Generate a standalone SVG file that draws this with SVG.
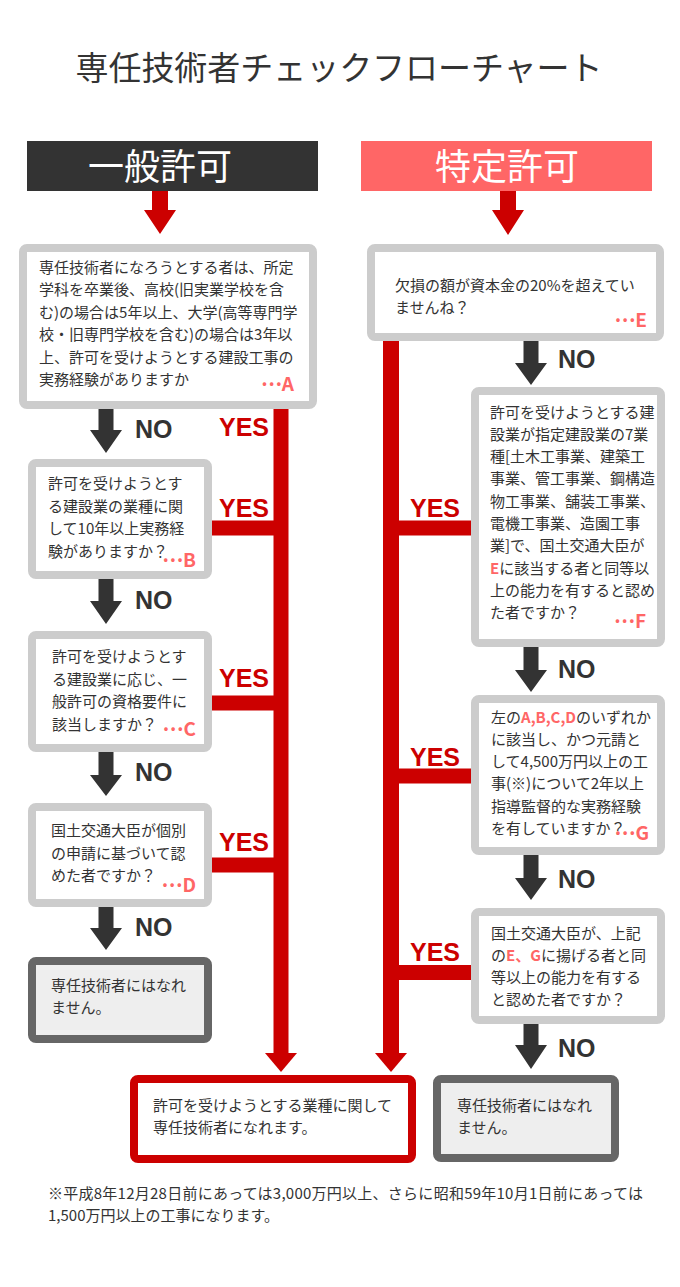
<svg xmlns="http://www.w3.org/2000/svg" width="680" height="1287" viewBox="0 0 680 1287">
<style>
.t{font-family:"Noto Sans CJK JP",sans-serif;font-size:15px;fill:#333}
.r{fill:#f66;font-weight:bold}
.lbl{font-family:"Noto Sans CJK JP",sans-serif;font-size:19px;font-weight:bold;fill:#f66;text-anchor:end}
.no{font-family:"Liberation Sans",Arial,sans-serif;font-size:25px;font-weight:bold;fill:#333}
.yes{font-family:"Liberation Sans",Arial,sans-serif;font-size:25px;font-weight:bold;fill:#c00}
.box{fill:#fff;stroke:#ccc;stroke-width:8;stroke-linejoin:round}
.end{fill:#eee;stroke:#666;stroke-width:8;stroke-linejoin:round}
.ok{fill:#fff;stroke:#c00;stroke-width:8;stroke-linejoin:round}
.hd{font-family:"Noto Sans CJK JP",sans-serif;font-size:36px;fill:#fff;text-anchor:middle}
.dk{fill:#333}
.rd{fill:#c00}
</style>
<rect width="680" height="1287" fill="#fff"/>
<text x="339" y="79.5" font-family="Noto Sans CJK JP, sans-serif" font-size="33" fill="#333" text-anchor="middle" textLength="527" lengthAdjust="spacing">専任技術者チェックフローチャート</text>

<g id="header-general">
<rect x="27" y="141" width="291" height="50" fill="#333"/>
<text class="hd" x="160" y="180">一般許可</text>
</g>
<g id="header-special">
<rect x="361" y="141" width="291" height="50" fill="#f66"/>
<text class="hd" x="507" y="180">特定許可</text>
</g>

<g id="connectors">
<path class="rd" d="M152 191H168V210H176L160 234L144 210H152Z"/>
<path class="rd" d="M500 191H516V210H524L508 235L492 210H500Z"/>
<rect class="rd" x="273.5" y="405" width="15" height="648"/>
<path class="rd" d="M265 1053H297L281 1072Z"/>
<rect class="rd" x="383" y="337" width="16" height="716"/>
<path class="rd" d="M375 1053H407L391 1072Z"/>
<rect class="rd" x="210" y="520.5" width="65" height="15"/>
<rect class="rd" x="210" y="695.5" width="65" height="15"/>
<rect class="rd" x="210" y="857.5" width="65" height="15"/>
<rect class="rd" x="397" y="520.5" width="76" height="15"/>
<rect class="rd" x="397" y="768.5" width="76" height="15"/>
<rect class="rd" x="397" y="965" width="76" height="15"/>
<path class="dk" d="M98.5 409H113.5V430H122L106 453L90 430H98.5Z"/>
<path class="dk" d="M98.5 579H113.5V601H122L106 624L90 601H98.5Z"/>
<path class="dk" d="M98.5 752H113.5V775H122L106 796L90 775H98.5Z"/>
<path class="dk" d="M98.5 907H113.5V928H122L106 950L90 928H98.5Z"/>
<path class="dk" d="M523.5 341H538.5V363H547L531 385L515 363H523.5Z"/>
<path class="dk" d="M523.5 647H538.5V670H547L531 692L515 670H523.5Z"/>
<path class="dk" d="M523.5 855H538.5V878H547L531 900L515 878H523.5Z"/>
<path class="dk" d="M523.5 1024H538.5V1045H547L531 1069L515 1045H523.5Z"/>
<text class="no" x="135" y="438">NO</text>
<text class="no" x="135" y="609">NO</text>
<text class="no" x="135" y="781">NO</text>
<text class="no" x="135" y="936">NO</text>
<text class="no" x="558" y="368">NO</text>
<text class="no" x="558" y="678">NO</text>
<text class="no" x="558" y="888">NO</text>
<text class="no" x="558" y="1057">NO</text>
<text class="yes" x="219" y="436">YES</text>
<text class="yes" x="219" y="517">YES</text>
<text class="yes" x="219" y="687">YES</text>
<text class="yes" x="219" y="851">YES</text>
<text class="yes" x="410" y="517">YES</text>
<text class="yes" x="410" y="766">YES</text>
<text class="yes" x="410" y="961">YES</text>
</g>

<g id="node-A">
<rect class="box" x="23" y="248" width="290" height="157" rx="4"/>
<text class="t" x="39" y="272.5">専任技術者になろうとする者は、所定</text>
<text class="t" x="39" y="295">学科を卒業後、高校(旧実業学校を含</text>
<text class="t" x="39" y="317.5">む)の場合は5年以上、大学(高等専門学</text>
<text class="t" x="39" y="340">校・旧専門学校を含む)の場合は3年以</text>
<text class="t" x="39" y="362.5">上、許可を受けようとする建設工事の</text>
<text class="t" x="39" y="385">実務経験がありますか</text>
<text class="lbl" x="294" y="391"><tspan dy="-5">…</tspan><tspan dy="5">A</tspan></text>
</g>
<g id="node-B">
<rect class="box" x="32" y="463" width="176" height="112" rx="4"/>
<text class="t" x="48" y="489">許可を受けようとす</text>
<text class="t" x="48" y="511.5">る建設業の業種に関</text>
<text class="t" x="48" y="534">して10年以上実務経</text>
<text class="t" x="48" y="556.5">験がありますか？</text>
<text class="lbl" x="196" y="567"><tspan dy="-5">…</tspan><tspan dy="5">B</tspan></text>
</g>
<g id="node-C">
<rect class="box" x="32" y="635" width="176" height="113" rx="4"/>
<text class="t" x="52" y="662">許可を受けようとす</text>
<text class="t" x="52" y="684.5">る建設業に応じ、一</text>
<text class="t" x="52" y="707">般許可の資格要件に</text>
<text class="t" x="52" y="729.5">該当しますか？</text>
<text class="lbl" x="196" y="736"><tspan dy="-5">…</tspan><tspan dy="5">C</tspan></text>
</g>
<g id="node-D">
<rect class="box" x="32" y="807" width="176" height="96" rx="4"/>
<text class="t" x="51" y="836">国土交通大臣が個別</text>
<text class="t" x="51" y="858.5">の申請に基づいて認</text>
<text class="t" x="51" y="881">めた者ですか？</text>
<text class="lbl" x="196" y="892"><tspan dy="-5">…</tspan><tspan dy="5">D</tspan></text>
</g>
<g id="node-fail-left">
<rect class="end" x="32" y="961" width="176" height="78" rx="4"/>
<text class="t" x="51" y="990.5">専任技術者にはなれ</text>
<text class="t" x="51" y="1013">ません。</text>
</g>

<g id="node-E">
<rect class="box" x="371" y="248" width="289" height="89" rx="4"/>
<text class="t" x="395" y="290.5">欠損の額が資本金の20%を超えてい</text>
<text class="t" x="395" y="313">ませんね？</text>
<text class="lbl" x="647" y="327"><tspan dy="-5">…</tspan><tspan dy="5">E</tspan></text>
</g>
<g id="node-F">
<rect class="box" x="475" y="391" width="186" height="252" rx="4"/>
<text class="t" x="490" y="417.5">許可を受けようとする建</text>
<text class="t" x="490" y="439.8">設業が指定建設業の7業</text>
<text class="t" x="490" y="462.1">種[土木工事業、建築工</text>
<text class="t" x="490" y="484.4">事業、管工事業、鋼構造</text>
<text class="t" x="490" y="506.7">物工事業、舗装工事業、</text>
<text class="t" x="490" y="529">電機工事業、造園工事</text>
<text class="t" x="490" y="551.3">業]で、国土交通大臣が</text>
<text class="t" x="490" y="573.6"><tspan class="r">E</tspan>に該当する者と同等以</text>
<text class="t" x="490" y="595.9">上の能力を有すると認め</text>
<text class="t" x="490" y="618.2">た者ですか？</text>
<text class="lbl" x="646" y="628"><tspan dy="-5">…</tspan><tspan dy="5">F</tspan></text>
</g>
<g id="node-G">
<rect class="box" x="475" y="699" width="186" height="152" rx="4"/>
<text class="t" x="491" y="722.5">左の<tspan class="r">A,B,C,D</tspan>のいずれか</text>
<text class="t" x="491" y="744.8">に該当し、かつ元請と</text>
<text class="t" x="491" y="767.1">して4,500万円以上の工</text>
<text class="t" x="491" y="789.4">事(※)について2年以上</text>
<text class="t" x="491" y="811.7">指導監督的な実務経験</text>
<text class="t" x="491" y="834">を有していますか？</text>
<text class="lbl" x="649" y="840"><tspan dy="-5">…</tspan><tspan dy="5">G</tspan></text>
</g>
<g id="node-H">
<rect class="box" x="475" y="912" width="186" height="108" rx="4"/>
<text class="t" x="491" y="938.5">国土交通大臣が、上記</text>
<text class="t" x="491" y="960.8">の<tspan class="r">E、G</tspan>に揚げる者と同</text>
<text class="t" x="491" y="983.1">等以上の能力を有する</text>
<text class="t" x="491" y="1005.4">と認めた者ですか？</text>
</g>

<g id="node-success">
<rect class="ok" x="134" y="1079" width="278" height="80" rx="4"/>
<text class="t" x="153" y="1110.5">許可を受けようとする業種に関して</text>
<text class="t" x="153" y="1132.5">専任技術者になれます。</text>
</g>
<g id="node-fail-right">
<rect class="end" x="437" y="1079" width="178" height="79" rx="4"/>
<text class="t" x="457" y="1110.5">専任技術者にはなれ</text>
<text class="t" x="457" y="1132.5">ません。</text>
</g>

<g id="footnote">
<text class="t" x="48" y="1198.5" textLength="595" lengthAdjust="spacing">※平成8年12月28日前にあっては3,000万円以上、さらに昭和59年10月1日前にあっては</text>
<text class="t" x="48" y="1220.5">1,500万円以上の工事になります。</text>
</g>
</svg>
